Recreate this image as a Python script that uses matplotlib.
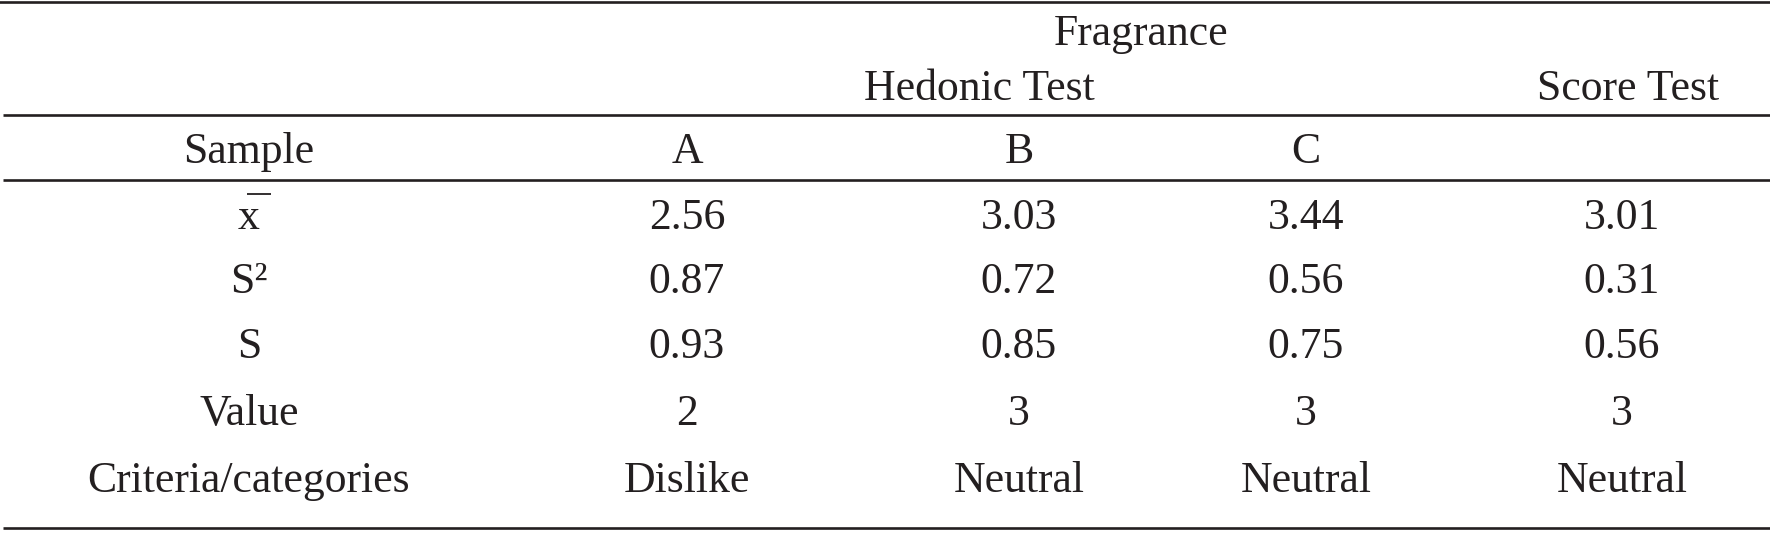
import matplotlib
matplotlib.use("Agg")
import matplotlib.pyplot as plt

# table contents
row_labels = ["x", "S²", "S", "Value", "Criteria/categories"]
samples = ["A", "B", "C", ""]
mean_vals = ["2.56", "3.03", "3.44", "3.01"]
var_vals = ["0.87", "0.72", "0.56", "0.31"]
sd_vals = ["0.93", "0.85", "0.75", "0.56"]
value_vals = ["2", "3", "3", "3"]
criteria_vals = ["Dislike", "Neutral", "Neutral", "Neutral"]

W, H = 1770, 533
fig = plt.figure(figsize=(W / 100, H / 100), dpi=100)
ax = fig.add_axes([0, 0, 1, 1])
ax.set_xlim(0, W)
ax.set_ylim(H, 0)
ax.axis("off")

ink = "#231f20"
font = dict(family="Liberation Serif", fontsize=31.5, color=ink)

label_x = 249
col_x = [687, 1019, 1306, 1622]

# horizontal rules
lw = 1.9
ax.axhline(2, color=ink, lw=lw)
for y in [115, 180, 528]:
    ax.plot([3, W], [y, y], color=ink, lw=lw, solid_capstyle="butt")

# header rows
ax.text(1141, 45, "Fragrance", ha="center", va="baseline", **font)
ax.text(979, 100, "Hedonic Test", ha="center", va="baseline", **font)
ax.text(1628, 100, "Score Test", ha="center", va="baseline", **font)
ax.text(label_x, 163, "Sample", ha="center", va="baseline", **font)
for x, s in zip(col_x, samples):
    ax.text(x, 163, s, ha="center", va="baseline", **font)

# body rows
rows = [mean_vals, var_vals, sd_vals, value_vals, criteria_vals]
row_y = [229, 293, 358, 425, 492]
for y, lab, vals in zip(row_y, row_labels, rows):
    ax.text(label_x, y, lab, ha="center", va="baseline", **font)
    for x, v in zip(col_x, vals):
        ax.text(x, y, v, ha="center", va="baseline", **font)

# bar over the mean symbol
ax.plot([label_x - 2, label_x + 22], [194, 194], color=ink, lw=1.3, solid_capstyle="butt")

fig.savefig("out.png", dpi=100, facecolor="white")
